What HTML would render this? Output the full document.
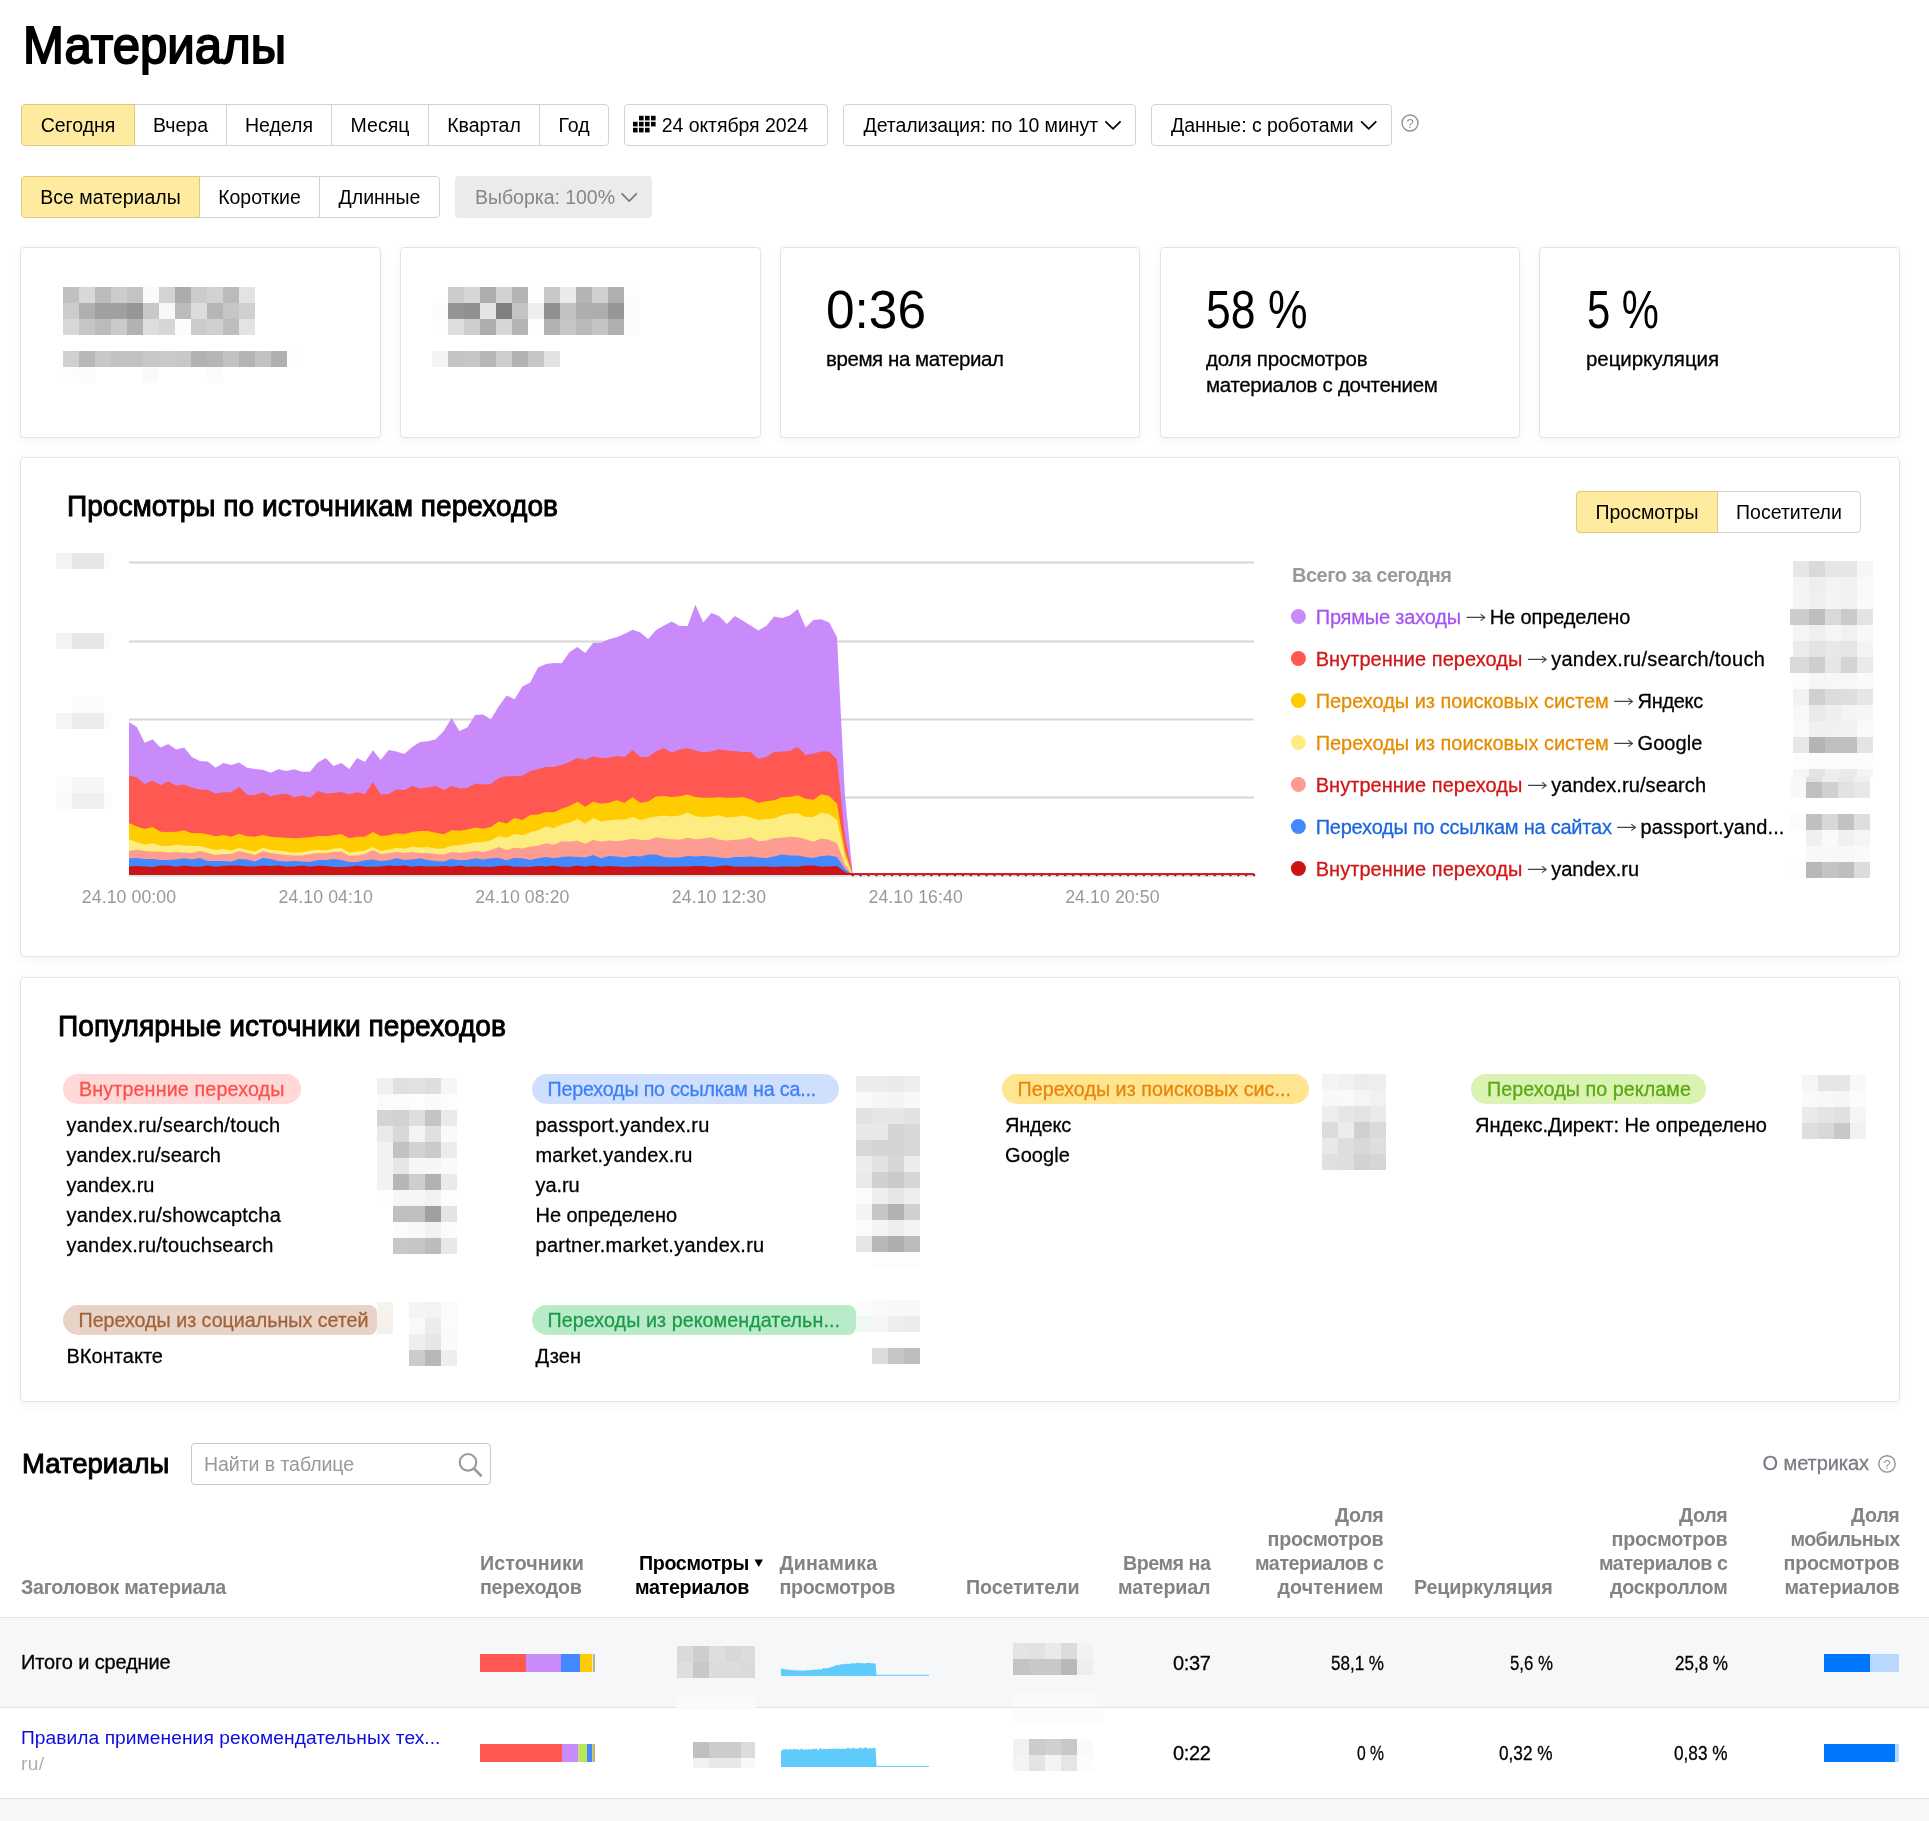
<!DOCTYPE html>
<html><head><meta charset="utf-8"><title>Материалы</title>
<style>
html,body{margin:0;padding:0;background:#fff;}
body{width:1929px;height:1821px;position:relative;overflow:hidden;font-family:"Liberation Sans", sans-serif;color:#000;}
span{display:block;z-index:5}
.card{position:absolute;box-sizing:border-box;background:#fff;border:1px solid #e1e5e9;border-radius:4px;box-shadow:0 4px 9px rgba(30,60,100,0.045),0 0 4px rgba(30,60,100,0.035);}
.btn{position:absolute;box-sizing:border-box;height:42px;border:1px solid #d2d2d2;background:#fff;}
.sel{background:#ffeba0;border-color:#e2c875;z-index:2}
svg{position:absolute;left:0;top:0;overflow:visible}
#root{position:absolute;left:0;top:0;width:1929px;height:1821px;will-change:transform}
</style></head><body><div id="root">
<span style="position:absolute;top:18.96px;font-size:52.5px;line-height:1;white-space:pre;color:#000;-webkit-text-stroke:1.9px #000;transform:scaleX(0.9355);transform-origin:0 0;left:22.80px;">Материалы</span><div class="btn sel" style="left:21px;top:104px;width:114px;border-radius:4px 0px 0px 4px"></div><span style="position:absolute;top:115.59px;font-size:19.5px;line-height:1;white-space:pre;color:#000;left:40.63px;">Сегодня</span><div class="btn" style="left:134px;top:104px;width:93px;border-radius:0px 0px 0px 0px"></div><span style="position:absolute;top:115.59px;font-size:19.5px;line-height:1;white-space:pre;color:#000;left:152.97px;">Вчера</span><div class="btn" style="left:226px;top:104px;width:106px;border-radius:0px 0px 0px 0px"></div><span style="position:absolute;top:115.59px;font-size:19.5px;line-height:1;white-space:pre;color:#000;left:244.99px;">Неделя</span><div class="btn" style="left:331px;top:104px;width:98px;border-radius:0px 0px 0px 0px"></div><span style="position:absolute;top:115.59px;font-size:19.5px;line-height:1;white-space:pre;color:#000;left:350.60px;">Месяц</span><div class="btn" style="left:428px;top:104px;width:112px;border-radius:0px 0px 0px 0px"></div><span style="position:absolute;top:115.59px;font-size:19.5px;line-height:1;white-space:pre;color:#000;left:447.15px;">Квартал</span><div class="btn" style="left:539px;top:104px;width:70px;border-radius:0px 4px 4px 0px"></div><span style="position:absolute;top:115.59px;font-size:19.5px;line-height:1;white-space:pre;color:#000;left:558.47px;">Год</span><div class="btn" style="left:624px;top:104px;width:204px;border-radius:4px 4px 4px 4px"></div><span style="position:absolute;top:115.59px;font-size:19.5px;line-height:1;white-space:pre;color:#000;letter-spacing:-0.077px;left:661.80px;">24 октября 2024</span><svg width="1929" height="200" style="z-index:3"><rect x="639.0" y="115.8" width="4.6" height="4.6" fill="#000"/><rect x="645.0" y="115.8" width="4.6" height="4.6" fill="#000"/><rect x="651.0" y="115.8" width="4.6" height="4.6" fill="#000"/><rect x="633.0" y="121.8" width="4.6" height="4.6" fill="#000"/><rect x="639.0" y="121.8" width="4.6" height="4.6" fill="#000"/><rect x="645.0" y="121.8" width="4.6" height="4.6" fill="#000"/><rect x="651.0" y="121.8" width="4.6" height="4.6" fill="#000"/><rect x="633.0" y="127.8" width="4.6" height="4.6" fill="#000"/><rect x="639.0" y="127.8" width="4.6" height="4.6" fill="#000"/><rect x="645.0" y="127.8" width="4.6" height="4.6" fill="#000"/></svg><div class="btn" style="left:843px;top:104px;width:293px;border-radius:4px 4px 4px 4px"></div><span style="position:absolute;top:115.59px;font-size:19.5px;line-height:1;white-space:pre;color:#000;letter-spacing:-0.073px;left:863.60px;">Детализация: по 10 минут</span><svg width="1929" height="400" style="z-index:3"><path d="M1105.4 121.3 L1113.0 128.9 L1120.6000000000001 121.3" fill="none" stroke="#000" stroke-width="1.7"/></svg><div class="btn" style="left:1151px;top:104px;width:241px;border-radius:4px 4px 4px 4px"></div><span style="position:absolute;top:115.59px;font-size:19.5px;line-height:1;white-space:pre;color:#000;letter-spacing:-0.050px;left:1171.00px;">Данные: с роботами</span><svg width="1929" height="400" style="z-index:3"><path d="M1361.1 121.3 L1368.6999999999998 128.9 L1376.3 121.3" fill="none" stroke="#000" stroke-width="1.7"/></svg><svg width="1929" height="1821" style="z-index:3"><circle cx="1410" cy="123" r="8" fill="none" stroke="#8e9196" stroke-width="1.4"/></svg><span style="position:absolute;top:116.70px;font-size:13px;line-height:1;white-space:pre;color:#8e9196;left:1406.38px;">?</span><div class="btn sel" style="left:21px;top:176px;width:179px;border-radius:4px 0px 0px 4px"></div><span style="position:absolute;top:187.59px;font-size:19.5px;line-height:1;white-space:pre;color:#000;left:40.30px;">Все материалы</span><div class="btn" style="left:199px;top:176px;width:121px;border-radius:0px 0px 0px 0px"></div><span style="position:absolute;top:187.59px;font-size:19.5px;line-height:1;white-space:pre;color:#000;left:218.16px;">Короткие</span><div class="btn" style="left:319px;top:176px;width:121px;border-radius:0px 4px 4px 0px"></div><span style="position:absolute;top:187.59px;font-size:19.5px;line-height:1;white-space:pre;color:#000;left:338.55px;">Длинные</span><div style="position:absolute;left:455px;top:176px;width:197px;height:42px;box-sizing:border-box;background:#ebebeb;border-radius:4px;"></div><span style="position:absolute;top:187.59px;font-size:19.5px;line-height:1;white-space:pre;color:#878787;letter-spacing:-0.031px;left:475.00px;">Выборка: 100%</span><svg width="1929" height="400" style="z-index:3"><path d="M621.6 193.4 L629.2 201.0 L636.8000000000001 193.4" fill="none" stroke="#777" stroke-width="1.7"/></svg><div class="card" style="left:20px;top:247px;width:361px;height:191px"></div><div class="card" style="left:400px;top:247px;width:361px;height:191px"></div><div class="card" style="left:780px;top:247px;width:360px;height:191px"></div><div class="card" style="left:1160px;top:247px;width:360px;height:191px"></div><div class="card" style="left:1539px;top:247px;width:361px;height:191px"></div><span style="position:absolute;top:283.41px;font-size:53.5px;line-height:1;white-space:pre;color:#000;transform:scaleX(0.9602);transform-origin:0 0;left:826.00px;">0:36</span><span style="position:absolute;top:348.65px;font-size:20.5px;line-height:1;white-space:pre;color:#000;-webkit-text-stroke:0.28px #000;letter-spacing:-0.431px;left:826.00px;">время на материал</span><span style="position:absolute;top:283.41px;font-size:53.5px;line-height:1;white-space:pre;color:#000;transform:scaleX(0.8323);transform-origin:0 0;left:1206.00px;">58 %</span><span style="position:absolute;top:348.65px;font-size:20.5px;line-height:1;white-space:pre;color:#000;-webkit-text-stroke:0.28px #000;letter-spacing:-0.164px;left:1206.00px;">доля просмотров</span><span style="position:absolute;top:374.65px;font-size:20.5px;line-height:1;white-space:pre;color:#000;-webkit-text-stroke:0.28px #000;letter-spacing:-0.314px;left:1206.00px;">материалов с дочтением</span><span style="position:absolute;top:283.41px;font-size:53.5px;line-height:1;white-space:pre;color:#000;transform:scaleX(0.7809);transform-origin:0 0;left:1586.50px;">5 %</span><span style="position:absolute;top:348.65px;font-size:20.5px;line-height:1;white-space:pre;color:#000;-webkit-text-stroke:0.28px #000;letter-spacing:-0.064px;left:1586.00px;">рециркуляция</span><div class="card" style="left:20px;top:457px;width:1880px;height:500px"></div><span style="position:absolute;top:492.05px;font-size:29px;line-height:1;white-space:pre;color:#000;-webkit-text-stroke:0.95px #000;transform:scaleX(0.9689);transform-origin:0 0;left:66.80px;">Просмотры по источникам переходов</span><div class="btn sel" style="left:1576px;top:491px;width:142px;border-radius:4px 0px 0px 4px"></div><span style="position:absolute;top:502.59px;font-size:19.5px;line-height:1;white-space:pre;color:#000;left:1595.46px;">Просмотры</span><div class="btn" style="left:1717px;top:491px;width:144px;border-radius:0px 4px 4px 0px"></div><span style="position:absolute;top:502.59px;font-size:19.5px;line-height:1;white-space:pre;color:#000;left:1736.09px;">Посетители</span><svg width="1929" height="1000" style="z-index:1"><rect x="129" y="561.5" width="1125" height="2" fill="#d6d6d6"/><rect x="129" y="640.5" width="1125" height="2" fill="#d6d6d6"/><rect x="129" y="718.5" width="1125" height="2" fill="#d6d6d6"/><rect x="129" y="796.5" width="1125" height="2" fill="#d6d6d6"/><rect x="129" y="874.6" width="1125" height="2.2" fill="#d9e4ee"/><path d="M129 875.0 L129.0 722.0 L136.9 726.9 L144.7 742.7 L152.6 739.3 L160.5 747.6 L168.3 744.1 L176.2 749.6 L184.1 747.6 L191.9 757.1 L199.8 761.0 L207.7 761.4 L215.5 767.7 L223.4 763.0 L231.3 764.9 L239.1 762.4 L247.0 767.7 L254.9 768.9 L262.7 769.7 L270.6 772.8 L278.5 769.3 L286.3 770.9 L294.2 769.3 L302.1 771.8 L309.9 771.8 L317.8 762.4 L325.7 758.0 L333.5 765.9 L341.4 763.0 L349.3 768.9 L357.1 758.0 L365.0 762.0 L372.9 750.2 L380.7 760.0 L388.6 750.0 L396.5 751.5 L404.3 754.1 L412.2 747.0 L420.1 742.1 L428.0 741.3 L435.8 739.3 L443.7 730.9 L451.6 718.1 L459.4 730.9 L467.3 727.5 L475.2 715.1 L483.0 714.5 L490.9 719.2 L498.8 706.2 L506.6 695.4 L514.5 699.3 L522.4 686.5 L530.2 682.6 L538.1 667.4 L546.0 663.9 L553.8 662.9 L561.7 663.3 L569.6 652.1 L577.4 647.1 L585.3 653.0 L593.2 642.8 L601.0 642.8 L608.9 639.3 L616.8 637.3 L624.6 633.7 L632.5 629.8 L640.4 632.4 L648.2 638.9 L656.1 630.0 L664.0 625.5 L671.8 621.5 L679.7 626.1 L687.6 626.1 L695.4 604.8 L703.3 622.5 L711.2 613.0 L719.0 616.0 L726.9 623.9 L734.8 616.0 L742.6 620.5 L750.5 625.5 L758.4 630.4 L766.2 625.9 L774.1 616.6 L782.0 618.0 L789.8 615.6 L797.7 609.1 L805.6 627.4 L813.4 620.1 L821.3 619.2 L829.2 622.5 L837.0 637.3 L844.9 795.0 L852.8 875.0 Z" fill="#c98bfa"/><path d="M129 875.0 L129.0 775.2 L136.9 777.5 L144.7 784.1 L152.6 780.7 L160.5 785.0 L168.3 781.5 L176.2 785.6 L184.1 784.4 L191.9 787.6 L199.8 789.4 L207.7 790.0 L215.5 793.5 L223.4 792.3 L231.3 792.3 L239.1 787.0 L247.0 794.5 L254.9 795.3 L262.7 792.3 L270.6 796.3 L278.5 794.5 L286.3 793.5 L294.2 797.2 L302.1 795.3 L309.9 797.8 L317.8 790.9 L325.7 793.5 L333.5 792.9 L341.4 791.9 L349.3 794.3 L357.1 792.3 L365.0 793.9 L372.9 782.1 L380.7 794.5 L388.6 793.9 L396.5 789.4 L404.3 790.0 L412.2 786.0 L420.1 788.4 L428.0 787.6 L435.8 786.0 L443.7 790.0 L451.6 786.0 L459.4 788.6 L467.3 788.0 L475.2 783.5 L483.0 784.6 L490.9 784.1 L498.8 778.1 L506.6 776.2 L514.5 776.2 L522.4 775.8 L530.2 771.2 L538.1 768.9 L546.0 766.9 L553.8 766.9 L561.7 764.9 L569.6 762.0 L577.4 758.0 L585.3 759.8 L593.2 756.5 L601.0 758.0 L608.9 757.8 L616.8 756.1 L624.6 757.1 L632.5 750.0 L640.4 756.9 L648.2 757.1 L656.1 751.2 L664.0 748.2 L671.8 752.5 L679.7 749.6 L687.6 748.2 L695.4 750.6 L703.3 752.5 L711.2 751.5 L719.0 749.6 L726.9 750.6 L734.8 751.0 L742.6 751.9 L750.5 752.1 L758.4 759.0 L766.2 756.9 L774.1 752.1 L782.0 751.5 L789.8 751.0 L797.7 747.0 L805.6 754.9 L813.4 753.5 L821.3 751.5 L829.2 751.5 L837.0 759.4 L844.9 836.1 L852.8 875.0 Z" fill="#ff5752"/><path d="M129 875.0 L129.0 823.1 L136.9 826.4 L144.7 829.0 L152.6 827.0 L160.5 831.7 L168.3 831.9 L176.2 831.7 L184.1 830.3 L191.9 833.3 L199.8 832.9 L207.7 834.3 L215.5 836.3 L223.4 834.9 L231.3 836.7 L239.1 833.7 L247.0 836.3 L254.9 836.8 L262.7 834.9 L270.6 836.7 L278.5 837.2 L286.3 837.8 L294.2 838.2 L302.1 837.8 L309.9 837.2 L317.8 835.9 L325.7 836.3 L333.5 835.3 L341.4 833.9 L349.3 838.2 L357.1 836.8 L365.0 836.7 L372.9 831.9 L380.7 835.9 L388.6 835.3 L396.5 833.3 L404.3 833.9 L412.2 831.9 L420.1 830.9 L428.0 830.9 L435.8 832.7 L443.7 834.3 L451.6 830.3 L459.4 830.7 L467.3 829.4 L475.2 827.4 L483.0 828.8 L490.9 827.0 L498.8 821.5 L506.6 823.5 L514.5 818.1 L522.4 820.1 L530.2 815.0 L538.1 814.6 L546.0 812.0 L553.8 812.2 L561.7 808.7 L569.6 806.1 L577.4 801.8 L585.3 806.7 L593.2 801.8 L601.0 803.8 L608.9 802.8 L616.8 800.2 L624.6 802.8 L632.5 797.2 L640.4 802.8 L648.2 801.4 L656.1 796.5 L664.0 795.9 L671.8 796.9 L679.7 796.3 L687.6 794.5 L695.4 796.9 L703.3 797.8 L711.2 797.8 L719.0 797.2 L726.9 797.8 L734.8 797.8 L742.6 796.9 L750.5 799.2 L758.4 802.8 L766.2 801.2 L774.1 800.2 L782.0 797.2 L789.8 796.9 L797.7 795.3 L805.6 798.8 L813.4 799.8 L821.3 794.3 L829.2 795.9 L837.0 803.8 L844.9 851.0 L852.8 875.0 Z" fill="#ffcc00"/><path d="M129 875.0 L129.0 839.2 L136.9 842.2 L144.7 844.5 L152.6 843.2 L160.5 845.7 L168.3 846.1 L176.2 844.7 L184.1 845.5 L191.9 846.1 L199.8 846.1 L207.7 848.1 L215.5 850.0 L223.4 848.7 L231.3 850.4 L239.1 848.1 L247.0 850.0 L254.9 851.4 L262.7 847.7 L270.6 849.7 L278.5 850.6 L286.3 851.4 L294.2 852.4 L302.1 852.0 L309.9 850.4 L317.8 849.7 L325.7 850.4 L333.5 848.7 L341.4 848.1 L349.3 852.4 L357.1 851.6 L365.0 850.6 L372.9 847.1 L380.7 851.0 L388.6 849.7 L396.5 848.1 L404.3 848.7 L412.2 846.7 L420.1 847.5 L428.0 847.1 L435.8 848.7 L443.7 848.5 L451.6 845.7 L459.4 845.1 L467.3 844.1 L475.2 842.2 L483.0 842.2 L490.9 840.2 L498.8 836.3 L506.6 837.8 L514.5 833.9 L522.4 835.3 L530.2 832.3 L538.1 830.3 L546.0 826.4 L553.8 828.0 L561.7 824.4 L569.6 822.5 L577.4 819.1 L585.3 823.8 L593.2 818.1 L601.0 821.5 L608.9 820.5 L616.8 819.5 L624.6 819.5 L632.5 817.0 L640.4 819.9 L648.2 818.1 L656.1 816.6 L664.0 815.6 L671.8 816.6 L679.7 815.6 L687.6 812.6 L695.4 816.2 L703.3 817.1 L711.2 816.6 L719.0 815.2 L726.9 817.5 L734.8 817.1 L742.6 815.6 L750.5 817.5 L758.4 820.1 L766.2 818.9 L774.1 818.5 L782.0 815.2 L789.8 813.6 L797.7 813.2 L805.6 817.0 L813.4 817.0 L821.3 812.6 L829.2 814.2 L837.0 820.1 L844.9 856.5 L852.8 875.0 Z" fill="#fdec80"/><path d="M129 875.0 L129.0 851.0 L136.9 849.7 L144.7 851.0 L152.6 851.4 L160.5 851.4 L168.3 852.4 L176.2 852.0 L184.1 852.4 L191.9 853.0 L199.8 851.0 L207.7 853.0 L215.5 855.0 L223.4 854.0 L231.3 854.0 L239.1 851.0 L247.0 853.0 L254.9 855.0 L262.7 851.0 L270.6 853.0 L278.5 854.0 L286.3 855.0 L294.2 855.4 L302.1 855.4 L309.9 854.0 L317.8 853.0 L325.7 853.6 L333.5 852.0 L341.4 851.6 L349.3 856.0 L357.1 855.4 L365.0 854.0 L372.9 850.0 L380.7 854.0 L388.6 853.0 L396.5 852.0 L404.3 853.0 L412.2 852.0 L420.1 853.0 L428.0 853.0 L435.8 854.0 L443.7 854.4 L451.6 852.0 L459.4 853.0 L467.3 852.0 L475.2 851.0 L483.0 852.0 L490.9 850.0 L498.8 847.1 L506.6 850.0 L514.5 847.7 L522.4 848.5 L530.2 846.5 L538.1 845.7 L546.0 843.2 L553.8 844.7 L561.7 841.2 L569.6 841.8 L577.4 840.6 L585.3 843.7 L593.2 839.8 L601.0 841.8 L608.9 840.6 L616.8 841.2 L624.6 840.2 L632.5 838.8 L640.4 839.8 L648.2 840.2 L656.1 837.2 L664.0 838.6 L671.8 839.2 L679.7 839.8 L687.6 837.8 L695.4 839.2 L703.3 838.6 L711.2 837.2 L719.0 839.8 L726.9 840.6 L734.8 839.8 L742.6 839.2 L750.5 837.2 L758.4 841.2 L766.2 840.6 L774.1 838.2 L782.0 837.8 L789.8 836.7 L797.7 837.2 L805.6 839.2 L813.4 841.8 L821.3 838.6 L829.2 839.8 L837.0 843.2 L844.9 864.3 L852.8 875.0 Z" fill="#ff9c92"/><path d="M129 875.0 L129.0 858.3 L136.9 857.9 L144.7 858.9 L152.6 858.9 L160.5 859.9 L168.3 859.9 L176.2 859.5 L184.1 858.3 L191.9 859.5 L199.8 857.9 L207.7 860.9 L215.5 860.9 L223.4 860.9 L231.3 861.5 L239.1 858.9 L247.0 859.5 L254.9 861.5 L262.7 857.9 L270.6 858.9 L278.5 860.9 L286.3 861.5 L294.2 860.9 L302.1 861.5 L309.9 861.9 L317.8 859.9 L325.7 859.9 L333.5 858.9 L341.4 859.9 L349.3 861.9 L357.1 861.9 L365.0 860.3 L372.9 859.5 L380.7 860.9 L388.6 860.3 L396.5 858.3 L404.3 859.9 L412.2 859.5 L420.1 858.3 L428.0 859.9 L435.8 860.9 L443.7 861.5 L451.6 858.9 L459.4 860.3 L467.3 859.9 L475.2 858.3 L483.0 859.5 L490.9 858.3 L498.8 857.9 L506.6 860.3 L514.5 857.9 L522.4 858.3 L530.2 859.9 L538.1 858.3 L546.0 856.9 L553.8 858.3 L561.7 856.9 L569.6 856.5 L577.4 856.9 L585.3 857.5 L593.2 855.0 L601.0 858.3 L608.9 856.0 L616.8 856.5 L624.6 857.5 L632.5 856.0 L640.4 856.4 L648.2 854.6 L656.1 854.6 L664.0 856.9 L671.8 857.5 L679.7 857.5 L687.6 856.0 L695.4 856.4 L703.3 856.0 L711.2 856.5 L719.0 857.5 L726.9 858.3 L734.8 856.9 L742.6 856.9 L750.5 856.4 L758.4 857.5 L766.2 857.9 L774.1 856.4 L782.0 854.6 L789.8 855.6 L797.7 855.6 L805.6 856.9 L813.4 857.9 L821.3 856.0 L829.2 855.6 L837.0 856.9 L844.9 868.9 L852.8 875.0 Z" fill="#4488ff"/><path d="M129 875.0 L129.0 866.4 L136.9 866.0 L144.7 866.4 L152.6 867.0 L160.5 865.6 L168.3 865.6 L176.2 866.8 L184.1 865.6 L191.9 866.4 L199.8 866.8 L207.7 865.6 L215.5 866.8 L223.4 866.0 L231.3 865.6 L239.1 865.6 L247.0 866.4 L254.9 866.4 L262.7 865.6 L270.6 866.0 L278.5 865.6 L286.3 866.8 L294.2 866.4 L302.1 865.6 L309.9 866.8 L317.8 865.6 L325.7 866.0 L333.5 867.0 L341.4 867.0 L349.3 866.8 L357.1 865.6 L365.0 866.8 L372.9 866.8 L380.7 866.4 L388.6 865.6 L396.5 866.0 L404.3 865.6 L412.2 866.8 L420.1 866.0 L428.0 866.4 L435.8 866.4 L443.7 866.0 L451.6 866.8 L459.4 865.6 L467.3 866.8 L475.2 866.4 L483.0 866.8 L490.9 867.0 L498.8 866.0 L506.6 865.6 L514.5 866.8 L522.4 866.8 L530.2 867.0 L538.1 866.0 L546.0 866.4 L553.8 865.6 L561.7 866.8 L569.6 867.0 L577.4 865.6 L585.3 866.8 L593.2 865.6 L601.0 866.8 L608.9 866.0 L616.8 866.4 L624.6 867.0 L632.5 866.8 L640.4 866.4 L648.2 866.4 L656.1 866.4 L664.0 866.8 L671.8 866.4 L679.7 866.4 L687.6 866.4 L695.4 866.0 L703.3 866.0 L711.2 867.0 L719.0 866.0 L726.9 865.6 L734.8 866.8 L742.6 866.4 L750.5 866.8 L758.4 866.4 L766.2 866.4 L774.1 867.0 L782.0 866.4 L789.8 866.4 L797.7 866.8 L805.6 865.6 L813.4 865.6 L821.3 866.8 L829.2 866.4 L837.0 866.0 L844.9 872.0 L852.8 875.0 Z" fill="#cc1414"/><rect x="129" y="873.1" width="1125" height="1.9" fill="#cc1414"/><circle cx="852.8" cy="875.1" r="1.35" fill="#cc1414"/><circle cx="860.6" cy="875.1" r="1.35" fill="#cc1414"/><circle cx="868.5" cy="875.1" r="1.35" fill="#cc1414"/><circle cx="876.4" cy="875.1" r="1.35" fill="#cc1414"/><circle cx="884.2" cy="875.1" r="1.35" fill="#cc1414"/><circle cx="892.1" cy="875.1" r="1.35" fill="#cc1414"/><circle cx="900.0" cy="875.1" r="1.35" fill="#cc1414"/><circle cx="907.8" cy="875.1" r="1.35" fill="#cc1414"/><circle cx="915.7" cy="875.1" r="1.35" fill="#cc1414"/><circle cx="923.6" cy="875.1" r="1.35" fill="#cc1414"/><circle cx="931.4" cy="875.1" r="1.35" fill="#cc1414"/><circle cx="939.3" cy="875.1" r="1.35" fill="#cc1414"/><circle cx="947.2" cy="875.1" r="1.35" fill="#cc1414"/><circle cx="955.0" cy="875.1" r="1.35" fill="#cc1414"/><circle cx="962.9" cy="875.1" r="1.35" fill="#cc1414"/><circle cx="970.8" cy="875.1" r="1.35" fill="#cc1414"/><circle cx="978.7" cy="875.1" r="1.35" fill="#cc1414"/><circle cx="986.5" cy="875.1" r="1.35" fill="#cc1414"/><circle cx="994.4" cy="875.1" r="1.35" fill="#cc1414"/><circle cx="1002.3" cy="875.1" r="1.35" fill="#cc1414"/><circle cx="1010.1" cy="875.1" r="1.35" fill="#cc1414"/><circle cx="1018.0" cy="875.1" r="1.35" fill="#cc1414"/><circle cx="1025.9" cy="875.1" r="1.35" fill="#cc1414"/><circle cx="1033.7" cy="875.1" r="1.35" fill="#cc1414"/><circle cx="1041.6" cy="875.1" r="1.35" fill="#cc1414"/><circle cx="1049.5" cy="875.1" r="1.35" fill="#cc1414"/><circle cx="1057.3" cy="875.1" r="1.35" fill="#cc1414"/><circle cx="1065.2" cy="875.1" r="1.35" fill="#cc1414"/><circle cx="1073.1" cy="875.1" r="1.35" fill="#cc1414"/><circle cx="1080.9" cy="875.1" r="1.35" fill="#cc1414"/><circle cx="1088.8" cy="875.1" r="1.35" fill="#cc1414"/><circle cx="1096.7" cy="875.1" r="1.35" fill="#cc1414"/><circle cx="1104.5" cy="875.1" r="1.35" fill="#cc1414"/><circle cx="1112.4" cy="875.1" r="1.35" fill="#cc1414"/><circle cx="1120.3" cy="875.1" r="1.35" fill="#cc1414"/><circle cx="1128.1" cy="875.1" r="1.35" fill="#cc1414"/><circle cx="1136.0" cy="875.1" r="1.35" fill="#cc1414"/><circle cx="1143.9" cy="875.1" r="1.35" fill="#cc1414"/><circle cx="1151.7" cy="875.1" r="1.35" fill="#cc1414"/><circle cx="1159.6" cy="875.1" r="1.35" fill="#cc1414"/><circle cx="1167.5" cy="875.1" r="1.35" fill="#cc1414"/><circle cx="1175.3" cy="875.1" r="1.35" fill="#cc1414"/><circle cx="1183.2" cy="875.1" r="1.35" fill="#cc1414"/><circle cx="1191.1" cy="875.1" r="1.35" fill="#cc1414"/><circle cx="1198.9" cy="875.1" r="1.35" fill="#cc1414"/><circle cx="1206.8" cy="875.1" r="1.35" fill="#cc1414"/><circle cx="1214.7" cy="875.1" r="1.35" fill="#cc1414"/><circle cx="1222.5" cy="875.1" r="1.35" fill="#cc1414"/><circle cx="1230.4" cy="875.1" r="1.35" fill="#cc1414"/><circle cx="1238.3" cy="875.1" r="1.35" fill="#cc1414"/><circle cx="1246.1" cy="875.1" r="1.35" fill="#cc1414"/><circle cx="1254.0" cy="875.1" r="1.35" fill="#cc1414"/></svg><span style="position:absolute;top:889.02px;font-size:17.7px;line-height:1;white-space:pre;color:#999;letter-spacing:0.086px;left:81.80px;">24.10 00:00</span><span style="position:absolute;top:889.02px;font-size:17.7px;line-height:1;white-space:pre;color:#999;letter-spacing:0.086px;left:278.48px;">24.10 04:10</span><span style="position:absolute;top:889.02px;font-size:17.7px;line-height:1;white-space:pre;color:#999;letter-spacing:0.086px;left:475.16px;">24.10 08:20</span><span style="position:absolute;top:889.02px;font-size:17.7px;line-height:1;white-space:pre;color:#999;letter-spacing:0.086px;left:671.83px;">24.10 12:30</span><span style="position:absolute;top:889.02px;font-size:17.7px;line-height:1;white-space:pre;color:#999;letter-spacing:0.086px;left:868.51px;">24.10 16:40</span><span style="position:absolute;top:889.02px;font-size:17.7px;line-height:1;white-space:pre;color:#999;letter-spacing:0.086px;left:1065.19px;">24.10 20:50</span><span style="position:absolute;top:565.07px;font-size:20px;line-height:1;white-space:pre;color:#999;font-weight:700;letter-spacing:-0.513px;left:1292.00px;">Всего за сегодня</span><span style="position:absolute;top:606.77px;font-size:20px;line-height:1;white-space:pre;color:#a653f0;-webkit-text-stroke:0.28px #a653f0;letter-spacing:-0.186px;left:1315.70px;">Прямые заходы</span><span style="position:absolute;top:606.77px;font-size:20px;line-height:1;white-space:pre;color:#000;-webkit-text-stroke:0.28px #000;letter-spacing:-0.122px;left:1489.80px;">Не определено</span><span style="position:absolute;top:648.77px;font-size:20px;line-height:1;white-space:pre;color:#d01616;-webkit-text-stroke:0.28px #d01616;letter-spacing:0.037px;left:1315.70px;">Внутренние переходы</span><span style="position:absolute;top:648.77px;font-size:20px;line-height:1;white-space:pre;color:#000;-webkit-text-stroke:0.28px #000;letter-spacing:0.272px;left:1551.20px;">yandex.ru/search/touch</span><span style="position:absolute;top:690.77px;font-size:20px;line-height:1;white-space:pre;color:#e58c00;-webkit-text-stroke:0.28px #e58c00;letter-spacing:-0.037px;left:1315.70px;">Переходы из поисковых систем</span><span style="position:absolute;top:690.77px;font-size:20px;line-height:1;white-space:pre;color:#000;-webkit-text-stroke:0.28px #000;letter-spacing:-0.294px;left:1637.50px;">Яндекс</span><span style="position:absolute;top:732.77px;font-size:20px;line-height:1;white-space:pre;color:#e58c00;-webkit-text-stroke:0.28px #e58c00;letter-spacing:-0.037px;left:1315.70px;">Переходы из поисковых систем</span><span style="position:absolute;top:732.77px;font-size:20px;line-height:1;white-space:pre;color:#000;-webkit-text-stroke:0.28px #000;letter-spacing:0.083px;left:1637.50px;">Google</span><span style="position:absolute;top:774.77px;font-size:20px;line-height:1;white-space:pre;color:#d01616;-webkit-text-stroke:0.28px #d01616;letter-spacing:0.037px;left:1315.70px;">Внутренние переходы</span><span style="position:absolute;top:774.77px;font-size:20px;line-height:1;white-space:pre;color:#000;-webkit-text-stroke:0.28px #000;letter-spacing:0.099px;left:1551.20px;">yandex.ru/search</span><span style="position:absolute;top:816.77px;font-size:20px;line-height:1;white-space:pre;color:#1c66dd;-webkit-text-stroke:0.28px #1c66dd;letter-spacing:-0.228px;left:1315.70px;">Переходы по ссылкам на сайтах</span><span style="position:absolute;top:816.77px;font-size:20px;line-height:1;white-space:pre;color:#000;-webkit-text-stroke:0.28px #000;letter-spacing:0.105px;left:1640.50px;">passport.yand...</span><span style="position:absolute;top:858.77px;font-size:20px;line-height:1;white-space:pre;color:#d01616;-webkit-text-stroke:0.28px #d01616;letter-spacing:0.037px;left:1315.70px;">Внутренние переходы</span><span style="position:absolute;top:858.77px;font-size:20px;line-height:1;white-space:pre;color:#000;-webkit-text-stroke:0.28px #000;letter-spacing:0.017px;left:1551.20px;">yandex.ru</span><svg width="1929" height="1000" style="z-index:1"><circle cx="1298.4" cy="616.5" r="7.5" fill="#c98bfa"/><path d="M1466.5 617.4 H1484.5 M1480.6 614.2 L1484.8 617.4 L1480.6 620.6" fill="none" stroke="#444" stroke-width="1.1"/><circle cx="1298.4" cy="658.5" r="7.5" fill="#ff5752"/><path d="M1527.9 659.4 H1545.9 M1542.0 656.2 L1546.2 659.4 L1542.0 662.6" fill="none" stroke="#444" stroke-width="1.1"/><circle cx="1298.4" cy="700.5" r="7.5" fill="#ffcc00"/><path d="M1614.2 701.4 H1632.2 M1628.3 698.2 L1632.5 701.4 L1628.3 704.6" fill="none" stroke="#444" stroke-width="1.1"/><circle cx="1298.4" cy="742.5" r="7.5" fill="#fdec80"/><path d="M1614.2 743.4 H1632.2 M1628.3 740.2 L1632.5 743.4 L1628.3 746.6" fill="none" stroke="#444" stroke-width="1.1"/><circle cx="1298.4" cy="784.5" r="7.5" fill="#ff9c92"/><path d="M1527.9 785.4 H1545.9 M1542.0 782.2 L1546.2 785.4 L1542.0 788.6" fill="none" stroke="#444" stroke-width="1.1"/><circle cx="1298.4" cy="826.5" r="7.5" fill="#4488ff"/><path d="M1617.2 827.4 H1635.2 M1631.3 824.2 L1635.5 827.4 L1631.3 830.6" fill="none" stroke="#444" stroke-width="1.1"/><circle cx="1298.4" cy="868.5" r="7.5" fill="#cc1414"/><path d="M1527.9 869.4 H1545.9 M1542.0 866.2 L1546.2 869.4 L1542.0 872.6" fill="none" stroke="#444" stroke-width="1.1"/></svg><div class="card" style="left:20px;top:977px;width:1880px;height:425px"></div><span style="position:absolute;top:1012.25px;font-size:29px;line-height:1;white-space:pre;color:#000;-webkit-text-stroke:0.95px #000;transform:scaleX(0.9711);transform-origin:0 0;left:57.80px;">Популярные источники переходов</span><div style="position:absolute;left:63px;top:1074px;width:238px;height:30px;box-sizing:border-box;background:#ffd8d8;border-radius:15px;"></div><span style="position:absolute;top:1080.12px;font-size:19.7px;line-height:1;white-space:pre;color:#ff4f4a;-webkit-text-stroke:0.28px #ff4f4a;letter-spacing:0.143px;left:79.00px;">Внутренние переходы</span><span style="position:absolute;top:1115.07px;font-size:20px;line-height:1;white-space:pre;color:#000;-webkit-text-stroke:0.28px #000;letter-spacing:0.277px;left:66.50px;">yandex.ru/search/touch</span><span style="position:absolute;top:1145.07px;font-size:20px;line-height:1;white-space:pre;color:#000;-webkit-text-stroke:0.28px #000;letter-spacing:0.067px;left:66.50px;">yandex.ru/search</span><span style="position:absolute;top:1175.07px;font-size:20px;line-height:1;white-space:pre;color:#000;-webkit-text-stroke:0.28px #000;letter-spacing:0.017px;left:66.50px;">yandex.ru</span><span style="position:absolute;top:1205.07px;font-size:20px;line-height:1;white-space:pre;color:#000;-webkit-text-stroke:0.28px #000;letter-spacing:0.208px;left:66.50px;">yandex.ru/showcaptcha</span><span style="position:absolute;top:1235.07px;font-size:20px;line-height:1;white-space:pre;color:#000;-webkit-text-stroke:0.28px #000;letter-spacing:0.222px;left:66.50px;">yandex.ru/touchsearch</span><div style="position:absolute;left:532px;top:1074px;width:307px;height:30px;box-sizing:border-box;background:#cfe0ff;border-radius:15px;"></div><span style="position:absolute;top:1080.12px;font-size:19.7px;line-height:1;white-space:pre;color:#3d7ff5;-webkit-text-stroke:0.28px #3d7ff5;letter-spacing:-0.186px;left:547.50px;">Переходы по ссылкам на са...</span><span style="position:absolute;top:1115.07px;font-size:20px;line-height:1;white-space:pre;color:#000;-webkit-text-stroke:0.28px #000;letter-spacing:0.216px;left:535.50px;">passport.yandex.ru</span><span style="position:absolute;top:1145.07px;font-size:20px;line-height:1;white-space:pre;color:#000;-webkit-text-stroke:0.28px #000;letter-spacing:0.155px;left:535.50px;">market.yandex.ru</span><span style="position:absolute;top:1175.07px;font-size:20px;line-height:1;white-space:pre;color:#000;-webkit-text-stroke:0.28px #000;letter-spacing:-0.094px;left:535.50px;">ya.ru</span><span style="position:absolute;top:1205.07px;font-size:20px;line-height:1;white-space:pre;color:#000;-webkit-text-stroke:0.28px #000;letter-spacing:-0.037px;left:535.50px;">Не определено</span><span style="position:absolute;top:1235.07px;font-size:20px;line-height:1;white-space:pre;color:#000;-webkit-text-stroke:0.28px #000;letter-spacing:0.277px;left:535.50px;">partner.market.yandex.ru</span><div style="position:absolute;left:1002px;top:1074px;width:307px;height:30px;box-sizing:border-box;background:#ffe58f;border-radius:15px;"></div><span style="position:absolute;top:1080.12px;font-size:19.7px;line-height:1;white-space:pre;color:#e8850c;-webkit-text-stroke:0.28px #e8850c;letter-spacing:0.033px;left:1017.50px;">Переходы из поисковых сис...</span><span style="position:absolute;top:1115.07px;font-size:20px;line-height:1;white-space:pre;color:#000;-webkit-text-stroke:0.28px #000;letter-spacing:-0.211px;left:1005.00px;">Яндекс</span><span style="position:absolute;top:1145.07px;font-size:20px;line-height:1;white-space:pre;color:#000;-webkit-text-stroke:0.28px #000;letter-spacing:0.083px;left:1005.00px;">Google</span><div style="position:absolute;left:1471px;top:1074px;width:235px;height:30px;box-sizing:border-box;background:#daf3b3;border-radius:15px;"></div><span style="position:absolute;top:1080.12px;font-size:19.7px;line-height:1;white-space:pre;color:#5aa811;-webkit-text-stroke:0.28px #5aa811;letter-spacing:0.076px;left:1487.00px;">Переходы по рекламе</span><span style="position:absolute;top:1115.07px;font-size:20px;line-height:1;white-space:pre;color:#000;-webkit-text-stroke:0.28px #000;letter-spacing:0.036px;left:1475.00px;">Яндекс.Директ: Не определено</span><div style="position:absolute;left:63px;top:1305px;width:314px;height:30px;box-sizing:border-box;background:#e8d4c7;border-radius:15px 8px 8px 15px;"></div><span style="position:absolute;top:1311.12px;font-size:19.7px;line-height:1;white-space:pre;color:#a0623a;-webkit-text-stroke:0.28px #a0623a;letter-spacing:-0.018px;left:78.50px;">Переходы из социальных сетей</span><span style="position:absolute;top:1345.77px;font-size:20px;line-height:1;white-space:pre;color:#000;-webkit-text-stroke:0.28px #000;letter-spacing:0.028px;left:66.50px;">ВКонтакте</span><div style="position:absolute;left:532px;top:1305px;width:324px;height:30px;box-sizing:border-box;background:#b9ebcb;border-radius:15px 8px 8px 15px;"></div><span style="position:absolute;top:1311.12px;font-size:19.7px;line-height:1;white-space:pre;color:#1b9a48;-webkit-text-stroke:0.28px #1b9a48;letter-spacing:0.070px;left:547.50px;">Переходы из рекомендательн...</span><span style="position:absolute;top:1345.77px;font-size:20px;line-height:1;white-space:pre;color:#000;-webkit-text-stroke:0.28px #000;letter-spacing:0.043px;left:535.50px;">Дзен</span><span style="position:absolute;top:1449.37px;font-size:28.5px;line-height:1;white-space:pre;color:#000;-webkit-text-stroke:0.95px #000;transform:scaleX(0.9659);transform-origin:0 0;left:22.40px;">Материалы</span><div style="position:absolute;left:191px;top:1443px;width:300px;height:42px;box-sizing:border-box;border:1px solid #c8c8c8;border-radius:4px;background:#fff;"></div><span style="position:absolute;top:1454.89px;font-size:19.5px;line-height:1;white-space:pre;color:#999;letter-spacing:-0.051px;left:204.00px;">Найти в таблице</span><svg width="1929" height="1821" style="z-index:3"><circle cx="468" cy="1462.3" r="8.3" fill="none" stroke="#999" stroke-width="2.1"/><path d="M474 1468.6 L481.6 1476.2" stroke="#999" stroke-width="2.7" fill="none"/></svg><span style="position:absolute;top:1453.07px;font-size:20px;line-height:1;white-space:pre;color:#787c82;-webkit-text-stroke:0.28px #787c82;letter-spacing:-0.059px;left:1762.50px;">О метриках</span><svg width="1929" height="1821" style="z-index:3"><circle cx="1887" cy="1463.9" r="8.2" fill="none" stroke="#8e9196" stroke-width="1.4"/></svg><span style="position:absolute;top:1457.60px;font-size:13px;line-height:1;white-space:pre;color:#8e9196;left:1883.38px;">?</span><span style="position:absolute;top:1577.92px;font-size:19.7px;line-height:1;white-space:pre;color:#838383;font-weight:700;letter-spacing:-0.295px;left:21.00px;">Заголовок материала</span><span style="position:absolute;top:1553.92px;font-size:19.7px;line-height:1;white-space:pre;color:#838383;font-weight:700;letter-spacing:0.066px;left:480.00px;">Источники</span><span style="position:absolute;top:1577.92px;font-size:19.7px;line-height:1;white-space:pre;color:#838383;font-weight:700;letter-spacing:-0.325px;left:480.00px;">переходов</span><span style="position:absolute;top:1553.92px;font-size:19.7px;line-height:1;white-space:pre;color:#000;font-weight:700;letter-spacing:-0.358px;left:639.00px;">Просмотры</span><span style="position:absolute;top:1577.92px;font-size:19.7px;line-height:1;white-space:pre;color:#000;font-weight:700;letter-spacing:-0.331px;left:635.00px;">материалов</span><svg width="1929" height="1821" style="z-index:3"><path d="M754.5 1559.5 H763 L758.75 1567 Z" fill="#000"/></svg><span style="position:absolute;top:1553.92px;font-size:19.7px;line-height:1;white-space:pre;color:#838383;font-weight:700;letter-spacing:0.193px;left:779.50px;">Динамика</span><span style="position:absolute;top:1577.92px;font-size:19.7px;line-height:1;white-space:pre;color:#838383;font-weight:700;letter-spacing:-0.278px;left:779.50px;">просмотров</span><span style="position:absolute;top:1577.92px;font-size:19.7px;line-height:1;white-space:pre;color:#838383;font-weight:700;letter-spacing:-0.102px;left:966.00px;">Посетители</span><span style="position:absolute;top:1553.92px;font-size:19.7px;line-height:1;white-space:pre;color:#838383;font-weight:700;letter-spacing:-0.475px;left:1123.00px;">Время на</span><span style="position:absolute;top:1577.92px;font-size:19.7px;line-height:1;white-space:pre;color:#838383;font-weight:700;letter-spacing:-0.117px;left:1118.00px;">материал</span><span style="position:absolute;top:1505.92px;font-size:19.7px;line-height:1;white-space:pre;color:#838383;font-weight:700;letter-spacing:-0.324px;left:1335.00px;">Доля</span><span style="position:absolute;top:1529.92px;font-size:19.7px;line-height:1;white-space:pre;color:#838383;font-weight:700;letter-spacing:-0.228px;left:1267.50px;">просмотров</span><span style="position:absolute;top:1553.92px;font-size:19.7px;line-height:1;white-space:pre;color:#838383;font-weight:700;letter-spacing:-0.435px;left:1255.00px;">материалов с</span><span style="position:absolute;top:1577.92px;font-size:19.7px;line-height:1;white-space:pre;color:#838383;font-weight:700;letter-spacing:0.076px;left:1277.50px;">дочтением</span><span style="position:absolute;top:1577.92px;font-size:19.7px;line-height:1;white-space:pre;color:#838383;font-weight:700;letter-spacing:-0.130px;left:1414.00px;">Рециркуляция</span><span style="position:absolute;top:1505.92px;font-size:19.7px;line-height:1;white-space:pre;color:#838383;font-weight:700;letter-spacing:-0.324px;left:1679.00px;">Доля</span><span style="position:absolute;top:1529.92px;font-size:19.7px;line-height:1;white-space:pre;color:#838383;font-weight:700;letter-spacing:-0.228px;left:1611.50px;">просмотров</span><span style="position:absolute;top:1553.92px;font-size:19.7px;line-height:1;white-space:pre;color:#838383;font-weight:700;letter-spacing:-0.435px;left:1599.00px;">материалов с</span><span style="position:absolute;top:1577.92px;font-size:19.7px;line-height:1;white-space:pre;color:#838383;font-weight:700;letter-spacing:-0.222px;left:1610.00px;">доскроллом</span><span style="position:absolute;top:1505.92px;font-size:19.7px;line-height:1;white-space:pre;color:#838383;font-weight:700;letter-spacing:-0.324px;left:1851.00px;">Доля</span><span style="position:absolute;top:1529.92px;font-size:19.7px;line-height:1;white-space:pre;color:#838383;font-weight:700;letter-spacing:-0.651px;left:1790.50px;">мобильных</span><span style="position:absolute;top:1553.92px;font-size:19.7px;line-height:1;white-space:pre;color:#838383;font-weight:700;letter-spacing:-0.228px;left:1783.50px;">просмотров</span><span style="position:absolute;top:1577.92px;font-size:19.7px;line-height:1;white-space:pre;color:#838383;font-weight:700;letter-spacing:-0.231px;left:1784.50px;">материалов</span><div style="position:absolute;left:0px;top:1617px;width:1929px;height:91px;box-sizing:border-box;background:#f6f7f9;border-top:1px solid #e3e5e8;border-bottom:1px solid #dfe2e5;"></div><div style="position:absolute;left:0px;top:1798px;width:1929px;height:30px;box-sizing:border-box;background:#f6f7f9;border-top:1px solid #dfe2e5;"></div><span style="position:absolute;top:1652.27px;font-size:20px;line-height:1;white-space:pre;color:#000;-webkit-text-stroke:0.28px #000;letter-spacing:-0.134px;left:21.00px;">Итого и средние</span><span style="position:absolute;top:1652.67px;font-size:20px;line-height:1;white-space:pre;color:#000;-webkit-text-stroke:0.28px #000;letter-spacing:-0.359px;left:1173.00px;">0:37</span><span style="position:absolute;top:1652.67px;font-size:20px;line-height:1;white-space:pre;color:#000;-webkit-text-stroke:0.28px #000;transform:scaleX(0.8512);transform-origin:0 0;left:1330.50px;">58,1 %</span><span style="position:absolute;top:1652.67px;font-size:20px;line-height:1;white-space:pre;color:#000;-webkit-text-stroke:0.28px #000;transform:scaleX(0.8406);transform-origin:0 0;left:1509.50px;">5,6 %</span><span style="position:absolute;top:1652.67px;font-size:20px;line-height:1;white-space:pre;color:#000;-webkit-text-stroke:0.28px #000;transform:scaleX(0.8512);transform-origin:0 0;left:1674.50px;">25,8 %</span><span style="position:absolute;top:1743.17px;font-size:20px;line-height:1;white-space:pre;color:#000;-webkit-text-stroke:0.28px #000;letter-spacing:-0.359px;left:1173.00px;">0:22</span><span style="position:absolute;top:1743.17px;font-size:20px;line-height:1;white-space:pre;color:#000;-webkit-text-stroke:0.28px #000;transform:scaleX(0.7833);transform-origin:0 0;left:1356.50px;">0 %</span><span style="position:absolute;top:1743.17px;font-size:20px;line-height:1;white-space:pre;color:#000;-webkit-text-stroke:0.28px #000;transform:scaleX(0.8592);transform-origin:0 0;left:1499.00px;">0,32 %</span><span style="position:absolute;top:1743.17px;font-size:20px;line-height:1;white-space:pre;color:#000;-webkit-text-stroke:0.28px #000;transform:scaleX(0.8592);transform-origin:0 0;left:1674.00px;">0,83 %</span><span style="position:absolute;top:1728.25px;font-size:19.2px;line-height:1;white-space:pre;color:#0c0ce0;letter-spacing:0.054px;left:21.00px;">Правила применения рекомендательных тех...</span><span style="position:absolute;top:1753.75px;font-size:19.2px;line-height:1;white-space:pre;color:#b0b0b0;letter-spacing:0.365px;left:21.00px;">ru/</span><svg width="1929" height="1821" style="z-index:1"><rect x="480" y="1654" width="46" height="18" fill="#ff5752"/><rect x="526" y="1654" width="35" height="18" fill="#c98bfa"/><rect x="561" y="1654" width="19" height="18" fill="#4488ff"/><rect x="580" y="1654" width="12" height="18" fill="#ffcc00"/><rect x="592" y="1654" width="1" height="18" fill="#fdec80"/><rect x="593" y="1654" width="2" height="18" fill="#a9b4c0"/><rect x="480" y="1744" width="82" height="18" fill="#ff5752"/><rect x="562" y="1744" width="16.200000000000045" height="18" fill="#c98bfa"/><rect x="578.2" y="1744" width="8.799999999999955" height="18" fill="#b8e85a"/><rect x="587" y="1744" width="5" height="18" fill="#4488ff"/><rect x="592" y="1744" width="1" height="18" fill="#ffcc00"/><rect x="593" y="1744" width="2" height="18" fill="#a9b4c0"/><rect x="1824" y="1654" width="46" height="18" fill="#0077ff"/><rect x="1870" y="1654" width="29" height="18" fill="#b8d8ff"/><rect x="1824" y="1744" width="71" height="18" fill="#0077ff"/><rect x="1895" y="1744" width="4" height="18" fill="#b8d8ff"/><path d="M781 1675.8 L781.0 1668.3 L782.1 1668.4 L783.1 1669.3 L784.2 1669.0 L785.2 1669.4 L786.3 1669.5 L787.3 1669.8 L788.4 1669.2 L789.4 1670.1 L790.5 1670.3 L791.5 1669.8 L792.6 1670.5 L793.6 1670.0 L794.7 1670.3 L795.7 1670.1 L796.8 1670.7 L797.8 1670.4 L798.9 1670.3 L799.9 1670.7 L801.0 1670.4 L802.0 1670.5 L803.1 1670.8 L804.1 1670.5 L805.2 1670.6 L806.2 1670.3 L807.3 1670.2 L808.3 1670.1 L809.4 1670.2 L810.4 1670.4 L811.5 1669.7 L812.5 1670.0 L813.6 1669.3 L814.6 1670.1 L815.7 1669.4 L816.7 1669.7 L817.8 1669.5 L818.8 1669.2 L819.9 1669.4 L820.9 1669.4 L822.0 1669.2 L823.0 1668.3 L824.1 1668.0 L825.1 1668.5 L826.2 1668.6 L827.2 1667.8 L828.3 1667.9 L829.4 1668.1 L830.4 1667.3 L831.5 1666.8 L832.5 1666.8 L833.6 1666.3 L834.6 1666.0 L835.7 1665.2 L836.7 1665.0 L837.8 1665.1 L838.8 1665.5 L839.9 1664.5 L840.9 1664.2 L842.0 1664.5 L843.0 1664.2 L844.1 1664.1 L845.1 1664.2 L846.2 1663.8 L847.2 1663.7 L848.3 1663.7 L849.3 1664.0 L850.4 1663.8 L851.4 1663.3 L852.5 1663.6 L853.5 1663.0 L854.6 1663.5 L855.6 1663.6 L856.7 1662.5 L857.7 1663.1 L858.8 1662.5 L859.8 1663.2 L860.9 1663.2 L861.9 1663.2 L863.0 1663.0 L864.0 1663.5 L865.1 1663.4 L866.1 1663.1 L867.2 1662.9 L868.2 1662.7 L869.3 1663.0 L870.3 1662.8 L871.4 1663.4 L872.4 1663.4 L873.5 1663.2 L874.5 1663.3 L875.6 1663.9 L876.6 1675.8 Z" fill="#5fcbfa"/><rect x="781" y="1674.8" width="148" height="1" fill="#5fcbfa"/><path d="M781 1766.9 L781.0 1750.3 L782.1 1750.5 L783.1 1749.0 L784.2 1750.0 L785.2 1748.8 L786.3 1748.9 L787.3 1749.8 L788.4 1749.6 L789.4 1749.5 L790.5 1749.3 L791.5 1749.3 L792.6 1749.4 L793.6 1749.2 L794.7 1748.6 L795.7 1749.4 L796.8 1749.5 L797.8 1749.0 L798.9 1749.8 L799.9 1749.7 L801.0 1748.5 L802.0 1749.3 L803.1 1749.2 L804.1 1750.1 L805.2 1749.4 L806.2 1749.1 L807.3 1750.1 L808.3 1749.0 L809.4 1748.9 L810.4 1749.9 L811.5 1748.9 L812.5 1749.2 L813.6 1748.8 L814.6 1749.3 L815.7 1748.7 L816.7 1748.6 L817.8 1749.9 L818.8 1749.8 L819.9 1748.6 L820.9 1748.1 L822.0 1749.4 L823.0 1749.0 L824.1 1748.7 L825.1 1749.2 L826.2 1749.1 L827.2 1749.2 L828.3 1749.0 L829.4 1748.6 L830.4 1749.1 L831.5 1749.0 L832.5 1748.2 L833.6 1749.6 L834.6 1748.6 L835.7 1748.2 L836.7 1749.0 L837.8 1749.1 L838.8 1748.1 L839.9 1749.1 L840.9 1749.1 L842.0 1748.7 L843.0 1748.2 L844.1 1749.2 L845.1 1748.8 L846.2 1748.8 L847.2 1747.8 L848.3 1748.5 L849.3 1747.8 L850.4 1749.0 L851.4 1748.7 L852.5 1748.1 L853.5 1747.6 L854.6 1748.4 L855.6 1748.8 L856.7 1748.9 L857.7 1748.2 L858.8 1748.8 L859.8 1747.6 L860.9 1747.6 L861.9 1748.7 L863.0 1748.5 L864.0 1747.6 L865.1 1747.8 L866.1 1747.5 L867.2 1748.3 L868.2 1748.7 L869.3 1748.4 L870.3 1747.5 L871.4 1748.4 L872.4 1748.2 L873.5 1748.1 L874.5 1748.1 L875.6 1748.1 L876.6 1766.9 Z" fill="#5fcbfa"/><rect x="781" y="1765.9" width="148" height="1" fill="#5fcbfa"/></svg><svg width="1929" height="1821" style="z-index:4" shape-rendering="crispEdges"><rect x="63" y="287" width="16" height="16" fill="#c0c0c0"/><rect x="79" y="287" width="16" height="16" fill="#d8d8d8"/><rect x="95" y="287" width="16" height="16" fill="#bbbbbb"/><rect x="111" y="287" width="16" height="16" fill="#cccccc"/><rect x="127" y="287" width="16" height="16" fill="#c4c4c4"/><rect x="143" y="287" width="16" height="16" fill="#fafafa"/><rect x="159" y="287" width="16" height="16" fill="#d3d3d3"/><rect x="175" y="287" width="16" height="16" fill="#acacac"/><rect x="191" y="287" width="16" height="16" fill="#cbcbcb"/><rect x="207" y="287" width="16" height="16" fill="#d2d2d2"/><rect x="223" y="287" width="16" height="16" fill="#bbbbbb"/><rect x="239" y="287" width="16" height="16" fill="#e3e3e3"/><rect x="63" y="303" width="16" height="16" fill="#cccccc"/><rect x="79" y="303" width="16" height="16" fill="#b0b0b0"/><rect x="95" y="303" width="16" height="16" fill="#a0a0a0"/><rect x="111" y="303" width="16" height="16" fill="#a0a0a0"/><rect x="127" y="303" width="16" height="16" fill="#969696"/><rect x="143" y="303" width="16" height="16" fill="#c8c8c8"/><rect x="159" y="303" width="16" height="16" fill="#f8f8f8"/><rect x="175" y="303" width="16" height="16" fill="#bbbbbb"/><rect x="191" y="303" width="16" height="16" fill="#dcdcdc"/><rect x="207" y="303" width="16" height="16" fill="#b6b6b6"/><rect x="223" y="303" width="16" height="16" fill="#c6c6c6"/><rect x="239" y="303" width="16" height="16" fill="#cfcfcf"/><rect x="63" y="319" width="16" height="16" fill="#d8d8d8"/><rect x="79" y="319" width="16" height="16" fill="#c6c6c6"/><rect x="95" y="319" width="16" height="16" fill="#bbbbbb"/><rect x="111" y="319" width="16" height="16" fill="#cacaca"/><rect x="127" y="319" width="16" height="16" fill="#b2b2b2"/><rect x="143" y="319" width="16" height="16" fill="#dddddd"/><rect x="159" y="319" width="16" height="16" fill="#d6d6d6"/><rect x="175" y="319" width="16" height="16" fill="#fcfcfc"/><rect x="191" y="319" width="16" height="16" fill="#cbcbcb"/><rect x="207" y="319" width="16" height="16" fill="#d0d0d0"/><rect x="223" y="319" width="16" height="16" fill="#bdbdbd"/><rect x="239" y="319" width="16" height="16" fill="#e3e3e3"/><rect x="63" y="351" width="16" height="16" fill="#d0d0d0"/><rect x="79" y="351" width="16" height="16" fill="#b8b8b8"/><rect x="95" y="351" width="16" height="16" fill="#c8c8c8"/><rect x="111" y="351" width="16" height="16" fill="#c2c2c2"/><rect x="127" y="351" width="16" height="16" fill="#c2c2c2"/><rect x="143" y="351" width="16" height="16" fill="#c8c8c8"/><rect x="159" y="351" width="16" height="16" fill="#cacaca"/><rect x="175" y="351" width="16" height="16" fill="#c8c8c8"/><rect x="191" y="351" width="16" height="16" fill="#b2b2b2"/><rect x="207" y="351" width="16" height="16" fill="#b6b6b6"/><rect x="223" y="351" width="16" height="16" fill="#c2c2c2"/><rect x="239" y="351" width="16" height="16" fill="#b4b4b4"/><rect x="255" y="351" width="16" height="16" fill="#c2c2c2"/><rect x="271" y="351" width="16" height="16" fill="#b0b0b0"/><rect x="287" y="351" width="16" height="16" fill="#fefefe"/><rect x="63" y="367" width="16" height="16" fill="#fdfdfd"/><rect x="79" y="367" width="16" height="16" fill="#fcfcfc"/><rect x="143" y="367" width="16" height="16" fill="#fafafa"/><rect x="207" y="367" width="16" height="16" fill="#fbfbfb"/><rect x="448" y="287" width="16" height="16" fill="#cccccc"/><rect x="464" y="287" width="16" height="16" fill="#d6d6d6"/><rect x="480" y="287" width="16" height="16" fill="#aeaeae"/><rect x="496" y="287" width="16" height="16" fill="#d2d2d2"/><rect x="512" y="287" width="16" height="16" fill="#b4b4b4"/><rect x="528" y="287" width="16" height="16" fill="#fefefe"/><rect x="544" y="287" width="16" height="16" fill="#c8c8c8"/><rect x="560" y="287" width="16" height="16" fill="#eaeaea"/><rect x="576" y="287" width="16" height="16" fill="#b4b4b4"/><rect x="592" y="287" width="16" height="16" fill="#d0d0d0"/><rect x="608" y="287" width="16" height="16" fill="#b0b0b0"/><rect x="624" y="287" width="16" height="16" fill="#fdfdfd"/><rect x="432" y="303" width="16" height="16" fill="#fcfcfc"/><rect x="448" y="303" width="16" height="16" fill="#949494"/><rect x="464" y="303" width="16" height="16" fill="#909090"/><rect x="480" y="303" width="16" height="16" fill="#e4e4e4"/><rect x="496" y="303" width="16" height="16" fill="#808080"/><rect x="512" y="303" width="16" height="16" fill="#c4c4c4"/><rect x="528" y="303" width="16" height="16" fill="#eeeeee"/><rect x="544" y="303" width="16" height="16" fill="#909090"/><rect x="560" y="303" width="16" height="16" fill="#c2c2c2"/><rect x="576" y="303" width="16" height="16" fill="#aeaeae"/><rect x="592" y="303" width="16" height="16" fill="#aeaeae"/><rect x="608" y="303" width="16" height="16" fill="#969696"/><rect x="624" y="303" width="16" height="16" fill="#fcfcfc"/><rect x="432" y="319" width="16" height="16" fill="#fdfdfd"/><rect x="448" y="319" width="16" height="16" fill="#dedede"/><rect x="464" y="319" width="16" height="16" fill="#cecece"/><rect x="480" y="319" width="16" height="16" fill="#aeaeae"/><rect x="496" y="319" width="16" height="16" fill="#d6d6d6"/><rect x="512" y="319" width="16" height="16" fill="#b4b4b4"/><rect x="528" y="319" width="16" height="16" fill="#fdfdfd"/><rect x="544" y="319" width="16" height="16" fill="#b2b2b2"/><rect x="560" y="319" width="16" height="16" fill="#c6c6c6"/><rect x="576" y="319" width="16" height="16" fill="#bababa"/><rect x="592" y="319" width="16" height="16" fill="#c4c4c4"/><rect x="608" y="319" width="16" height="16" fill="#b0b0b0"/><rect x="624" y="319" width="16" height="16" fill="#fbfbfb"/><rect x="432" y="351" width="16" height="16" fill="#f4f4f4"/><rect x="448" y="351" width="16" height="16" fill="#c4c4c4"/><rect x="464" y="351" width="16" height="16" fill="#c6c6c6"/><rect x="480" y="351" width="16" height="16" fill="#b6b6b6"/><rect x="496" y="351" width="16" height="16" fill="#cecece"/><rect x="512" y="351" width="16" height="16" fill="#b2b2b2"/><rect x="528" y="351" width="16" height="16" fill="#c6c6c6"/><rect x="544" y="351" width="16" height="16" fill="#e2e2e2"/><rect x="56" y="553" width="16" height="16" fill="#f3f3f3"/><rect x="72" y="553" width="16" height="16" fill="#e6e6e6"/><rect x="88" y="553" width="16" height="16" fill="#e6e6e6"/><rect x="104" y="553" width="7" height="16" fill="#fbfbfb"/><rect x="56" y="633" width="16" height="16" fill="#f3f3f3"/><rect x="72" y="633" width="16" height="16" fill="#e6e6e6"/><rect x="88" y="633" width="16" height="16" fill="#e6e6e6"/><rect x="104" y="633" width="7" height="16" fill="#fbfbfb"/><rect x="72" y="697" width="16" height="16" fill="#fbfbfb"/><rect x="88" y="697" width="16" height="16" fill="#fbfbfb"/><rect x="56" y="713" width="16" height="16" fill="#f5f5f5"/><rect x="72" y="713" width="16" height="16" fill="#ececec"/><rect x="88" y="713" width="16" height="16" fill="#ececec"/><rect x="104" y="713" width="7" height="16" fill="#fbfbfb"/><rect x="56" y="777" width="16" height="16" fill="#fbfbfb"/><rect x="72" y="777" width="16" height="16" fill="#f6f6f6"/><rect x="88" y="777" width="16" height="16" fill="#f6f6f6"/><rect x="56" y="793" width="16" height="16" fill="#fafafa"/><rect x="72" y="793" width="16" height="16" fill="#efefef"/><rect x="88" y="793" width="16" height="16" fill="#efefef"/><rect x="104" y="793" width="7" height="16" fill="#fcfcfc"/><rect x="1793" y="561" width="16" height="16" fill="#e6e6e6"/><rect x="1809" y="561" width="16" height="16" fill="#d9d9d9"/><rect x="1825" y="561" width="16" height="16" fill="#e6e6e6"/><rect x="1841" y="561" width="16" height="16" fill="#e6e6e6"/><rect x="1857" y="561" width="16" height="16" fill="#f6f6f6"/><rect x="1793" y="577" width="16" height="16" fill="#f4f4f4"/><rect x="1809" y="577" width="16" height="16" fill="#eeeeee"/><rect x="1825" y="577" width="16" height="16" fill="#f3f3f3"/><rect x="1841" y="577" width="16" height="16" fill="#f1f1f1"/><rect x="1857" y="577" width="16" height="16" fill="#fafafa"/><rect x="1793" y="593" width="16" height="16" fill="#f4f4f4"/><rect x="1809" y="593" width="16" height="16" fill="#f0f0f0"/><rect x="1825" y="593" width="16" height="16" fill="#f4f4f4"/><rect x="1841" y="593" width="16" height="16" fill="#f2f2f2"/><rect x="1857" y="593" width="16" height="16" fill="#fafafa"/><rect x="1793" y="609" width="16" height="16" fill="#cccccc"/><rect x="1809" y="609" width="16" height="16" fill="#bebebe"/><rect x="1825" y="609" width="16" height="16" fill="#d9d9d9"/><rect x="1841" y="609" width="16" height="16" fill="#cacaca"/><rect x="1857" y="609" width="16" height="16" fill="#e4e4e4"/><rect x="1793" y="625" width="16" height="16" fill="#f5f5f5"/><rect x="1809" y="625" width="16" height="16" fill="#efefef"/><rect x="1825" y="625" width="16" height="16" fill="#f5f5f5"/><rect x="1841" y="625" width="16" height="16" fill="#f1f1f1"/><rect x="1857" y="625" width="16" height="16" fill="#f8f8f8"/><rect x="1793" y="641" width="16" height="16" fill="#ebebeb"/><rect x="1809" y="641" width="16" height="16" fill="#e3e3e3"/><rect x="1825" y="641" width="16" height="16" fill="#e8e8e8"/><rect x="1841" y="641" width="16" height="16" fill="#e5e5e5"/><rect x="1857" y="641" width="16" height="16" fill="#f3f3f3"/><rect x="1793" y="657" width="16" height="16" fill="#dadada"/><rect x="1809" y="657" width="16" height="16" fill="#cecece"/><rect x="1825" y="657" width="16" height="16" fill="#e6e6e6"/><rect x="1841" y="657" width="16" height="16" fill="#d4d4d4"/><rect x="1857" y="657" width="16" height="16" fill="#eaeaea"/><rect x="1793" y="673" width="16" height="16" fill="#fcfcfc"/><rect x="1809" y="673" width="16" height="16" fill="#f6f6f6"/><rect x="1825" y="673" width="16" height="16" fill="#f7f7f7"/><rect x="1841" y="673" width="16" height="16" fill="#f7f7f7"/><rect x="1857" y="673" width="16" height="16" fill="#fafafa"/><rect x="1793" y="689" width="16" height="16" fill="#f2f2f2"/><rect x="1809" y="689" width="16" height="16" fill="#d0d0d0"/><rect x="1825" y="689" width="16" height="16" fill="#dcdcdc"/><rect x="1841" y="689" width="16" height="16" fill="#dedede"/><rect x="1857" y="689" width="16" height="16" fill="#e6e6e6"/><rect x="1793" y="705" width="16" height="16" fill="#f8f8f8"/><rect x="1809" y="705" width="16" height="16" fill="#eaeaea"/><rect x="1825" y="705" width="16" height="16" fill="#eeeeee"/><rect x="1841" y="705" width="16" height="16" fill="#f4f4f4"/><rect x="1857" y="705" width="16" height="16" fill="#f6f6f6"/><rect x="1793" y="721" width="16" height="16" fill="#fafafa"/><rect x="1809" y="721" width="16" height="16" fill="#f0f0f0"/><rect x="1825" y="721" width="16" height="16" fill="#f1f1f1"/><rect x="1841" y="721" width="16" height="16" fill="#f2f2f2"/><rect x="1857" y="721" width="16" height="16" fill="#fafafa"/><rect x="1793" y="737" width="16" height="16" fill="#e8e8e8"/><rect x="1809" y="737" width="16" height="16" fill="#b4b4b4"/><rect x="1825" y="737" width="16" height="16" fill="#c0c0c0"/><rect x="1841" y="737" width="16" height="16" fill="#c0c0c0"/><rect x="1857" y="737" width="16" height="16" fill="#e4e4e4"/><rect x="1793" y="753" width="16" height="16" fill="#fdfdfd"/><rect x="1809" y="753" width="16" height="16" fill="#fbfbfb"/><rect x="1825" y="753" width="16" height="16" fill="#fbfbfb"/><rect x="1841" y="753" width="16" height="16" fill="#fbfbfb"/><rect x="1857" y="753" width="16" height="16" fill="#fcfcfc"/><rect x="1793" y="769" width="16" height="8" fill="#f6f6f6"/><rect x="1809" y="769" width="16" height="8" fill="#e4e4e4"/><rect x="1825" y="769" width="16" height="8" fill="#eeeeee"/><rect x="1841" y="769" width="16" height="8" fill="#eaeaea"/><rect x="1857" y="769" width="16" height="8" fill="#f4f4f4"/><rect x="1790" y="609" width="3" height="16" fill="#cccccc"/><rect x="1790" y="657" width="3" height="16" fill="#dadada"/><rect x="1790" y="777" width="16" height="5.5" fill="#f8f8f8"/><rect x="1806" y="777" width="16" height="5.5" fill="#e0e0e0"/><rect x="1822" y="777" width="16" height="5.5" fill="#eeeeee"/><rect x="1838" y="777" width="16" height="5.5" fill="#e8e8e8"/><rect x="1854" y="777" width="16" height="5.5" fill="#f0f0f0"/><rect x="1790" y="782.4" width="16" height="16" fill="#f8f8f8"/><rect x="1806" y="782.4" width="16" height="16" fill="#c0c0c0"/><rect x="1822" y="782.4" width="16" height="16" fill="#d0d0d0"/><rect x="1838" y="782.4" width="16" height="16" fill="#e2e2e2"/><rect x="1854" y="782.4" width="16" height="16" fill="#e8e8e8"/><rect x="1790" y="814" width="16" height="16" fill="#fcfcfc"/><rect x="1806" y="814" width="16" height="16" fill="#c0c0c0"/><rect x="1822" y="814" width="16" height="16" fill="#d8d8d8"/><rect x="1838" y="814" width="16" height="16" fill="#c2c2c2"/><rect x="1854" y="814" width="16" height="16" fill="#dedede"/><rect x="1806" y="830" width="16" height="16" fill="#f0f0f0"/><rect x="1822" y="830" width="16" height="16" fill="#fafafa"/><rect x="1838" y="830" width="16" height="16" fill="#f0f0f0"/><rect x="1854" y="830" width="16" height="16" fill="#f5f5f5"/><rect x="1806" y="846" width="16" height="16" fill="#f8f8f8"/><rect x="1822" y="846" width="16" height="16" fill="#f8f8f8"/><rect x="1838" y="846" width="16" height="16" fill="#f8f8f8"/><rect x="1854" y="846" width="16" height="16" fill="#fafafa"/><rect x="1790" y="862" width="16" height="16" fill="#fdfdfd"/><rect x="1806" y="862" width="16" height="16" fill="#b8b8b8"/><rect x="1822" y="862" width="16" height="16" fill="#c4c4c4"/><rect x="1838" y="862" width="16" height="16" fill="#bebebe"/><rect x="1854" y="862" width="16" height="16" fill="#dcdcdc"/><rect x="377" y="1078" width="16" height="16" fill="#f0f0f0"/><rect x="393" y="1078" width="16" height="16" fill="#e0e0e0"/><rect x="409" y="1078" width="16" height="16" fill="#e2e2e2"/><rect x="425" y="1078" width="16" height="16" fill="#dedede"/><rect x="441" y="1078" width="16" height="16" fill="#f6f6f6"/><rect x="377" y="1094" width="16" height="16" fill="#fbfbfb"/><rect x="393" y="1094" width="16" height="16" fill="#fbfbfb"/><rect x="409" y="1094" width="16" height="16" fill="#fdfdfd"/><rect x="425" y="1094" width="16" height="16" fill="#fafafa"/><rect x="441" y="1094" width="16" height="16" fill="#fdfdfd"/><rect x="377" y="1110" width="16" height="16" fill="#d4d4d4"/><rect x="393" y="1110" width="16" height="16" fill="#d2d2d2"/><rect x="409" y="1110" width="16" height="16" fill="#dedede"/><rect x="425" y="1110" width="16" height="16" fill="#c4c4c4"/><rect x="441" y="1110" width="16" height="16" fill="#eaeaea"/><rect x="377" y="1126" width="16" height="16" fill="#eaeaea"/><rect x="393" y="1126" width="16" height="16" fill="#d8d8d8"/><rect x="409" y="1126" width="16" height="16" fill="#f4f4f4"/><rect x="425" y="1126" width="16" height="16" fill="#e0e0e0"/><rect x="441" y="1126" width="16" height="16" fill="#fafafa"/><rect x="377" y="1142" width="16" height="16" fill="#f2f2f2"/><rect x="393" y="1142" width="16" height="16" fill="#c2c2c2"/><rect x="409" y="1142" width="16" height="16" fill="#d2d2d2"/><rect x="425" y="1142" width="16" height="16" fill="#cacaca"/><rect x="441" y="1142" width="16" height="16" fill="#ececec"/><rect x="377" y="1158" width="16" height="16" fill="#f2f2f2"/><rect x="393" y="1158" width="16" height="16" fill="#e6e6e6"/><rect x="409" y="1158" width="16" height="16" fill="#f6f6f6"/><rect x="425" y="1158" width="16" height="16" fill="#f6f6f6"/><rect x="441" y="1158" width="16" height="16" fill="#fafafa"/><rect x="377" y="1174" width="16" height="16" fill="#f2f2f2"/><rect x="393" y="1174" width="16" height="16" fill="#b6b6b6"/><rect x="409" y="1174" width="16" height="16" fill="#cecece"/><rect x="425" y="1174" width="16" height="16" fill="#b2b2b2"/><rect x="441" y="1174" width="16" height="16" fill="#eaeaea"/><rect x="377" y="1190" width="16" height="16" fill="#fefefe"/><rect x="393" y="1190" width="16" height="16" fill="#f6f6f6"/><rect x="409" y="1190" width="16" height="16" fill="#f6f6f6"/><rect x="425" y="1190" width="16" height="16" fill="#f2f2f2"/><rect x="441" y="1190" width="16" height="16" fill="#fdfdfd"/><rect x="393" y="1206" width="16" height="16" fill="#c0c0c0"/><rect x="409" y="1206" width="16" height="16" fill="#c0c0c0"/><rect x="425" y="1206" width="16" height="16" fill="#a0a0a0"/><rect x="441" y="1206" width="16" height="16" fill="#e4e4e4"/><rect x="393" y="1222" width="16" height="16" fill="#fbfbfb"/><rect x="409" y="1222" width="16" height="16" fill="#f8f8f8"/><rect x="425" y="1222" width="16" height="16" fill="#f2f2f2"/><rect x="441" y="1222" width="16" height="16" fill="#fcfcfc"/><rect x="393" y="1238" width="16" height="16" fill="#c8c8c8"/><rect x="409" y="1238" width="16" height="16" fill="#c6c6c6"/><rect x="425" y="1238" width="16" height="16" fill="#bcbcbc"/><rect x="441" y="1238" width="16" height="16" fill="#e8e8e8"/><rect x="377" y="1302" width="16" height="16" fill="#f8f2ec"/><rect x="377" y="1318" width="16" height="16" fill="#f6f0ea"/><rect x="409" y="1302" width="16" height="16" fill="#f4f4f4"/><rect x="425" y="1302" width="16" height="16" fill="#f3f3f3"/><rect x="441" y="1302" width="16" height="16" fill="#fbfbfb"/><rect x="409" y="1318" width="16" height="16" fill="#f9f9f9"/><rect x="425" y="1318" width="16" height="16" fill="#ececec"/><rect x="441" y="1318" width="16" height="16" fill="#fbfbfb"/><rect x="409" y="1334" width="16" height="16" fill="#eeeeee"/><rect x="425" y="1334" width="16" height="16" fill="#e6e6e6"/><rect x="441" y="1334" width="16" height="16" fill="#fafafa"/><rect x="409" y="1350" width="16" height="16" fill="#cccccc"/><rect x="425" y="1350" width="16" height="16" fill="#b8b8b8"/><rect x="441" y="1350" width="16" height="16" fill="#eeeeee"/><rect x="856" y="1076" width="16" height="16" fill="#ececec"/><rect x="872" y="1076" width="16" height="16" fill="#ececec"/><rect x="888" y="1076" width="16" height="16" fill="#eaeaea"/><rect x="904" y="1076" width="16" height="16" fill="#eeeeee"/><rect x="856" y="1092" width="16" height="16" fill="#fafafa"/><rect x="872" y="1092" width="16" height="16" fill="#f6f6f6"/><rect x="888" y="1092" width="16" height="16" fill="#f4f4f4"/><rect x="904" y="1092" width="16" height="16" fill="#f8f8f8"/><rect x="856" y="1108" width="16" height="16" fill="#e2e2e2"/><rect x="872" y="1108" width="16" height="16" fill="#e6e6e6"/><rect x="888" y="1108" width="16" height="16" fill="#e6e6e6"/><rect x="904" y="1108" width="16" height="16" fill="#e2e2e2"/><rect x="856" y="1124" width="16" height="16" fill="#e8e8e8"/><rect x="872" y="1124" width="16" height="16" fill="#e8e8e8"/><rect x="888" y="1124" width="16" height="16" fill="#d4d4d4"/><rect x="904" y="1124" width="16" height="16" fill="#d8d8d8"/><rect x="856" y="1140" width="16" height="16" fill="#d8d8d8"/><rect x="872" y="1140" width="16" height="16" fill="#d4d4d4"/><rect x="888" y="1140" width="16" height="16" fill="#d4d4d4"/><rect x="904" y="1140" width="16" height="16" fill="#d8d8d8"/><rect x="856" y="1156" width="16" height="16" fill="#ececec"/><rect x="872" y="1156" width="16" height="16" fill="#e2e2e2"/><rect x="888" y="1156" width="16" height="16" fill="#d6d6d6"/><rect x="904" y="1156" width="16" height="16" fill="#ececec"/><rect x="856" y="1172" width="16" height="16" fill="#eaeaea"/><rect x="872" y="1172" width="16" height="16" fill="#d0d0d0"/><rect x="888" y="1172" width="16" height="16" fill="#cacaca"/><rect x="904" y="1172" width="16" height="16" fill="#d6d6d6"/><rect x="856" y="1188" width="16" height="16" fill="#fbfbfb"/><rect x="872" y="1188" width="16" height="16" fill="#eeeeee"/><rect x="888" y="1188" width="16" height="16" fill="#e6e6e6"/><rect x="904" y="1188" width="16" height="16" fill="#eeeeee"/><rect x="856" y="1204" width="16" height="16" fill="#f4f4f4"/><rect x="872" y="1204" width="16" height="16" fill="#c6c6c6"/><rect x="888" y="1204" width="16" height="16" fill="#b2b2b2"/><rect x="904" y="1204" width="16" height="16" fill="#d0d0d0"/><rect x="856" y="1220" width="16" height="16" fill="#fbfbfb"/><rect x="872" y="1220" width="16" height="16" fill="#f4f4f4"/><rect x="888" y="1220" width="16" height="16" fill="#eeeeee"/><rect x="904" y="1220" width="16" height="16" fill="#f4f4f4"/><rect x="856" y="1236" width="16" height="16" fill="#e6e6e6"/><rect x="872" y="1236" width="16" height="16" fill="#b8b8b8"/><rect x="888" y="1236" width="16" height="16" fill="#aeaeae"/><rect x="904" y="1236" width="16" height="16" fill="#bcbcbc"/><rect x="872" y="1252" width="16" height="16" fill="#fdfdfd"/><rect x="888" y="1252" width="16" height="16" fill="#fdfdfd"/><rect x="904" y="1252" width="16" height="16" fill="#fdfdfd"/><rect x="856" y="1300" width="16" height="16" fill="#fcfcfc"/><rect x="872" y="1300" width="16" height="16" fill="#fafafa"/><rect x="888" y="1300" width="16" height="16" fill="#f8f8f8"/><rect x="904" y="1300" width="16" height="16" fill="#f8f8f8"/><rect x="856" y="1316" width="16" height="16" fill="#f0f8f3"/><rect x="872" y="1316" width="16" height="16" fill="#f6f6f6"/><rect x="888" y="1316" width="16" height="16" fill="#eeeeee"/><rect x="904" y="1316" width="16" height="16" fill="#ececec"/><rect x="872" y="1348" width="16" height="16" fill="#dcdcdc"/><rect x="888" y="1348" width="16" height="16" fill="#c6c6c6"/><rect x="904" y="1348" width="16" height="16" fill="#bebebe"/><rect x="1322" y="1074" width="16" height="16" fill="#f4f4f4"/><rect x="1338" y="1074" width="16" height="16" fill="#f1f1f1"/><rect x="1354" y="1074" width="16" height="16" fill="#ececec"/><rect x="1370" y="1074" width="16" height="16" fill="#eeeeee"/><rect x="1322" y="1090" width="16" height="16" fill="#f8f8f8"/><rect x="1338" y="1090" width="16" height="16" fill="#f9f9f9"/><rect x="1354" y="1090" width="16" height="16" fill="#f5f5f5"/><rect x="1370" y="1090" width="16" height="16" fill="#f1f1f1"/><rect x="1322" y="1106" width="16" height="16" fill="#eeeeee"/><rect x="1338" y="1106" width="16" height="16" fill="#e6e6e6"/><rect x="1354" y="1106" width="16" height="16" fill="#e3e3e3"/><rect x="1370" y="1106" width="16" height="16" fill="#eaeaea"/><rect x="1322" y="1122" width="16" height="16" fill="#dcdcdc"/><rect x="1338" y="1122" width="16" height="16" fill="#ececec"/><rect x="1354" y="1122" width="16" height="16" fill="#d0d0d0"/><rect x="1370" y="1122" width="16" height="16" fill="#dadada"/><rect x="1322" y="1138" width="16" height="16" fill="#e8e8e8"/><rect x="1338" y="1138" width="16" height="16" fill="#dedede"/><rect x="1354" y="1138" width="16" height="16" fill="#d8d8d8"/><rect x="1370" y="1138" width="16" height="16" fill="#dedede"/><rect x="1322" y="1154" width="16" height="16" fill="#e0e0e0"/><rect x="1338" y="1154" width="16" height="16" fill="#dedede"/><rect x="1354" y="1154" width="16" height="16" fill="#d2d2d2"/><rect x="1370" y="1154" width="16" height="16" fill="#d6d6d6"/><rect x="1802" y="1075" width="16" height="16" fill="#f5f5f5"/><rect x="1818" y="1075" width="16" height="16" fill="#e6e6e6"/><rect x="1834" y="1075" width="16" height="16" fill="#e6e6e6"/><rect x="1850" y="1075" width="16" height="16" fill="#f8f8f8"/><rect x="1802" y="1091" width="16" height="16" fill="#fafafa"/><rect x="1818" y="1091" width="16" height="16" fill="#f8f8f8"/><rect x="1834" y="1091" width="16" height="16" fill="#f6f6f6"/><rect x="1850" y="1091" width="16" height="16" fill="#fcfcfc"/><rect x="1802" y="1107" width="16" height="16" fill="#eaeaea"/><rect x="1818" y="1107" width="16" height="16" fill="#e4e4e4"/><rect x="1834" y="1107" width="16" height="16" fill="#e0e0e0"/><rect x="1850" y="1107" width="16" height="16" fill="#f6f6f6"/><rect x="1802" y="1123" width="16" height="16" fill="#dedede"/><rect x="1818" y="1123" width="16" height="16" fill="#d8d8d8"/><rect x="1834" y="1123" width="16" height="16" fill="#c8c8c8"/><rect x="1850" y="1123" width="16" height="16" fill="#f1f1f1"/><rect x="677" y="1646" width="16" height="16" fill="#dadada"/><rect x="693" y="1646" width="16" height="16" fill="#cecece"/><rect x="709" y="1646" width="16" height="16" fill="#dedede"/><rect x="725" y="1646" width="16" height="16" fill="#d8d8d8"/><rect x="741" y="1646" width="14" height="16" fill="#dcdcdc"/><rect x="677" y="1662" width="16" height="16" fill="#dedede"/><rect x="693" y="1662" width="16" height="16" fill="#c8c8c8"/><rect x="709" y="1662" width="16" height="16" fill="#dcdcdc"/><rect x="725" y="1662" width="16" height="16" fill="#dcdcdc"/><rect x="741" y="1662" width="14" height="16" fill="#dadada"/><rect x="677" y="1694" width="78" height="14" fill="#f8f9fa"/><rect x="677" y="1708" width="78" height="2" fill="#fbfbfb"/><rect x="693" y="1742" width="16" height="16" fill="#c0c0c0"/><rect x="709" y="1742" width="16" height="16" fill="#cccccc"/><rect x="725" y="1742" width="16" height="16" fill="#cccccc"/><rect x="741" y="1742" width="14" height="16" fill="#dcdcdc"/><rect x="693" y="1758" width="16" height="10" fill="#f2f2f2"/><rect x="709" y="1758" width="16" height="10" fill="#e8e8e8"/><rect x="725" y="1758" width="16" height="10" fill="#e8e8e8"/><rect x="741" y="1758" width="14" height="10" fill="#f8f8f8"/><rect x="1013" y="1643" width="16" height="16" fill="#e4e4e4"/><rect x="1029" y="1643" width="16" height="16" fill="#e2e2e2"/><rect x="1045" y="1643" width="16" height="16" fill="#eaeaea"/><rect x="1061" y="1643" width="16" height="16" fill="#dcdcdc"/><rect x="1077" y="1643" width="16" height="16" fill="#f2f2f2"/><rect x="1013" y="1659" width="16" height="16" fill="#c4c4c4"/><rect x="1029" y="1659" width="16" height="16" fill="#c8c8c8"/><rect x="1045" y="1659" width="16" height="16" fill="#c8c8c8"/><rect x="1061" y="1659" width="16" height="16" fill="#b8b8b8"/><rect x="1077" y="1659" width="16" height="16" fill="#eeeeee"/><rect x="1013" y="1691" width="90" height="16" fill="#f8f9fa"/><rect x="1013" y="1708" width="90" height="15" fill="#fcfcfc"/><rect x="1013" y="1739" width="16" height="16" fill="#f2f2f2"/><rect x="1029" y="1739" width="16" height="16" fill="#cccccc"/><rect x="1045" y="1739" width="16" height="16" fill="#d0d0d0"/><rect x="1061" y="1739" width="16" height="16" fill="#c8c8c8"/><rect x="1077" y="1739" width="16" height="16" fill="#fafafa"/><rect x="1013" y="1755" width="16" height="16" fill="#f4f4f4"/><rect x="1029" y="1755" width="16" height="16" fill="#e4e4e4"/><rect x="1045" y="1755" width="16" height="16" fill="#f4f4f4"/><rect x="1061" y="1755" width="16" height="16" fill="#e6e6e6"/><rect x="1077" y="1755" width="16" height="16" fill="#fcfcfc"/></svg>
</div></body></html>
